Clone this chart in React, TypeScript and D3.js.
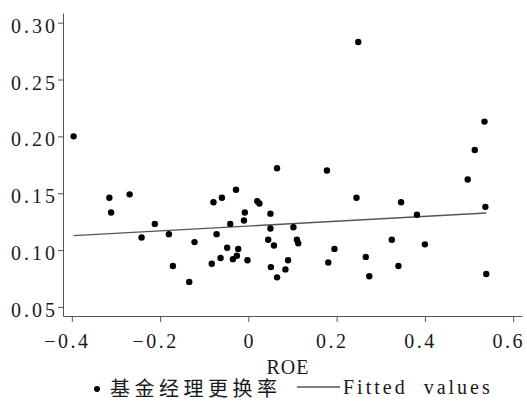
import { useEffect, useRef } from 'react';
import * as d3 from 'd3';

// ROE (x) vs fund manager turnover rate (y)
const roe = [
  -0.396, -0.315, -0.311, -0.269, -0.242, -0.212, -0.18, -0.171, -0.134, -0.122,
  -0.083, -0.079, -0.072, -0.063, -0.06, -0.048, -0.041, -0.035, -0.028, -0.026,
  -0.023, -0.01, -0.008, -0.002, 0.02, 0.025, 0.045, 0.05, 0.05, 0.051,
  0.058, 0.065, 0.065, 0.084, 0.09, 0.102, 0.11, 0.113, 0.178, 0.181,
  0.195, 0.245, 0.249, 0.266, 0.274, 0.325, 0.34, 0.346, 0.382, 0.4,
  0.497, 0.513, 0.535, 0.537, 0.539,
];
const turnover = [
  0.2, 0.146, 0.133, 0.149, 0.111, 0.123, 0.114, 0.086, 0.072, 0.107,
  0.088, 0.142, 0.114, 0.093, 0.146, 0.102, 0.123, 0.092, 0.153, 0.095,
  0.101, 0.126, 0.133, 0.091, 0.143, 0.141, 0.109, 0.132, 0.119, 0.085,
  0.104, 0.172, 0.076, 0.083, 0.091, 0.12, 0.109, 0.106, 0.17, 0.089,
  0.101, 0.146, 0.283, 0.094, 0.077, 0.109, 0.086, 0.142, 0.131, 0.105,
  0.162, 0.188, 0.213, 0.138, 0.079,
];

const fitIntercept = 0.1211;
const fitSlope = 0.02134;

const xTicks = [-0.4, -0.2, 0, 0.2, 0.4, 0.6];
const yTicks = [0.05, 0.1, 0.15, 0.2, 0.25, 0.3];

const xTitle = 'ROE';
const legendScatter = '基金经理更换率';
const legendLine = 'Fitted values';

const W = 527;
const H = 404;
const serif = "'Liberation Serif', 'Times New Roman', serif";
const ink = '#1a1a1a';
const axisColor = '#555';

export default function App() {
  const svgRef = useRef<SVGSVGElement>(null);

  useEffect(() => {
    const svg = d3.select(svgRef.current);
    svg.selectAll('*').remove();

    const x = d3.scaleLinear().domain([-0.42, 0.62]).range([63, 522]);
    const y = d3.scaleLinear().domain([0.042, 0.3085]).range([316, 13]);

    // y axis
    const gy = svg.append('g').attr('transform', `translate(${x.range()[0]},0)`)
      .call(d3.axisLeft(y).tickValues(yTicks).tickFormat(d3.format('.2f')).tickSize(5).tickSizeOuter(0).tickPadding(4));
    gy.attr('font-family', null).attr('font-size', null);
    gy.select('.domain').attr('stroke', axisColor);
    gy.selectAll('.tick line').attr('stroke', axisColor);
    gy.selectAll('.tick text')
      .style('font-family', serif).style('font-size', '20px').attr('letter-spacing', 3)
      .attr('fill', ink).attr('dy', 9.6).attr('x', -5);

    // x axis
    const gx = svg.append('g').attr('transform', `translate(0,${y.range()[0]})`)
      .call(d3.axisBottom(x).tickValues(xTicks)
        .tickFormat((d: any) => (d === 0 ? '0' : d3.format('.1f')(d)))
        .tickSize(6).tickSizeOuter(0));
    gx.attr('font-family', null).attr('font-size', null);
    gx.select('.domain').attr('stroke', axisColor);
    gx.selectAll('.tick line').attr('stroke', axisColor);
    gx.selectAll('.tick text')
      .style('font-family', serif).style('font-size', '20px').attr('letter-spacing', 2.5)
      .attr('fill', ink).attr('dy', null).attr('y', 31.5)
      .attr('dx', (d: any) => (d === 0 ? 1 : -5));

    // fitted line
    const fitX = d3.extent(roe) as [number, number];
    svg.append('path')
      .attr('d', d3.line<number>().x(d => x(d)).y(d => y(fitIntercept + fitSlope * d))(fitX))
      .attr('fill', 'none').attr('stroke', '#555').attr('stroke-width', 1.3);

    // points
    svg.append('g').selectAll('circle')
      .data(roe)
      .join('circle')
      .attr('cx', d => x(d))
      .attr('cy', (_, i) => y(turnover[i]))
      .attr('r', 3.2)
      .attr('fill', '#000');

    // axis title
    svg.append('text')
      .attr('x', 288).attr('y', 374)
      .attr('text-anchor', 'middle')
      .style('font-family', serif).style('font-size', '20px').attr('letter-spacing', 1)
      .attr('fill', ink).text(xTitle);

    // legend
    const lg = svg.append('g');
    lg.append('circle').attr('cx', 97).attr('cy', 389).attr('r', 3).attr('fill', '#000');
    lg.append('text')
      .attr('x', 110).attr('y', 396)
      .style('font-family', "'Noto Sans CJK SC', sans-serif").style('font-size', '20px')
      .attr('letter-spacing', 4.5).attr('fill', ink).text(legendScatter);
    lg.append('line')
      .attr('x1', 297).attr('x2', 340).attr('y1', 387).attr('y2', 387)
      .attr('stroke', '#555').attr('stroke-width', 1.3);
    lg.append('text')
      .attr('x', 343).attr('y', 394)
      .style('font-family', serif).style('font-size', '20px')
      .attr('letter-spacing', 3).attr('word-spacing', 8)
      .attr('fill', ink).text(legendLine);
  }, []);

  return (
    <svg ref={svgRef} width={W} height={H}
      style={{ position: 'absolute', left: 0, top: 0, background: '#fff' }} />
  );
}
